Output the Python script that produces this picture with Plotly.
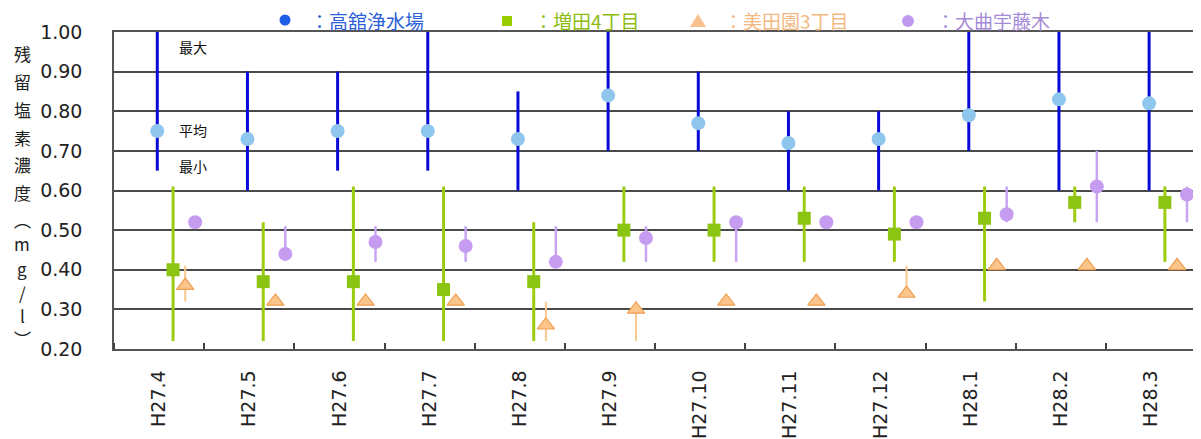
import plotly.graph_objects as go

months = ["H27.4", "H27.5", "H27.6", "H27.7", "H27.8", "H27.9",
          "H27.10", "H27.11", "H27.12", "H28.1", "H28.2", "H28.3"]

# 高舘浄水場
blue_max = [1.00, 0.90, 0.90, 1.00, 0.85, 1.00, 0.90, 0.80, 0.80, 1.00, 1.00, 1.00]
blue_avg = [0.75, 0.73, 0.75, 0.75, 0.73, 0.84, 0.77, 0.72, 0.73, 0.79, 0.83, 0.82]
blue_min = [0.65, 0.60, 0.65, 0.65, 0.60, 0.70, 0.70, 0.60, 0.60, 0.70, 0.60, 0.60]

# 増田4丁目
green_max = [0.61, 0.52, 0.61, 0.61, 0.52, 0.61, 0.61, 0.61, 0.61, 0.61, 0.61, 0.61]
green_avg = [0.40, 0.37, 0.37, 0.35, 0.37, 0.50, 0.50, 0.53, 0.49, 0.53, 0.57, 0.57]
green_min = [0.22, 0.22, 0.22, 0.22, 0.22, 0.42, 0.42, 0.42, 0.42, 0.32, 0.52, 0.42]

# 美田園3丁目
orange_max = [0.41, 0.32, 0.32, 0.32, 0.32, 0.32, 0.32, 0.32, 0.41, 0.41, 0.41, 0.41]
orange_avg = [0.36, 0.32, 0.32, 0.32, 0.26, 0.30, 0.32, 0.32, 0.34, 0.41, 0.41, 0.41]
orange_min = [0.32, 0.32, 0.32, 0.32, 0.22, 0.22, 0.32, 0.32, 0.34, 0.41, 0.41, 0.41]

# 大曲宇藤木
purple_max = [0.52, 0.51, 0.51, 0.51, 0.51, 0.51, 0.52, 0.52, 0.52, 0.61, 0.70, 0.61]
purple_avg = [0.52, 0.44, 0.47, 0.46, 0.42, 0.48, 0.52, 0.52, 0.52, 0.54, 0.61, 0.59]
purple_min = [0.52, 0.44, 0.42, 0.42, 0.42, 0.42, 0.42, 0.52, 0.52, 0.52, 0.52, 0.52]

series_names = ["：高舘浄水場", "：増田4丁目", "：美田園3丁目", "：大曲宇藤木"]
y_ticks = [0.20, 0.30, 0.40, 0.50, 0.60, 0.70, 0.80, 0.90, 1.00]
y_title_chars = ["残", "留", "塩", "素", "濃", "度", "︵", "m", "g", "/", "l", "︶"]

# page has an 8px body margin; target plot area is x 114..1196, y 32..349
OFF = 8
W, H = 1193, 431
ML, MR, MT, MB = 114 - OFF, 5, 32 - OFF, 90
PW, PH = W - ML - MR, H - MT - MB


def px(x):
    return (x - OFF - ML) / PW


def py(y):
    return (H - MB - (y - OFF)) / PH


n = len(months)
idx = list(range(n))

fig = go.Figure()


def add_series(offset, mx, av, mn, line_color, line_w, marker):
    xs = [i + offset for i in idx]
    fig.add_trace(go.Scatter(
        x=xs, y=av, mode="markers",
        marker=marker,
        error_y=dict(type="data", symmetric=False,
                     array=[a - b for a, b in zip(mx, av)],
                     arrayminus=[b - c for b, c in zip(av, mn)],
                     color=line_color, thickness=line_w, width=0),
        showlegend=False, cliponaxis=False, hoverinfo="skip"))


add_series(-0.02, blue_max, blue_avg, blue_min, "#0a0ad8", 3,
           dict(symbol="circle", size=14, color="#8fc6ee"))
add_series(0.155, green_max, green_avg, green_min, "#9ccc10", 3,
           dict(symbol="square", size=13, color="#8cc414"))
add_series(0.29, orange_max, orange_avg, orange_min, "#f8c890", 2,
           dict(symbol="triangle-up", size=15, color="#fbc58c",
                line=dict(color="#eea050", width=1.2)))
add_series(0.40, purple_max, purple_avg, purple_min, "#c8a4f2", 2.5,
           dict(symbol="circle", size=14, color="#c59cf0"))

annotations = []
for txt, yv in [("最大", 0.962), ("平均", 0.753), ("最小", 0.662)]:
    annotations.append(dict(x=0.2, y=yv, xref="x", yref="y", text=txt,
                            showarrow=False, xanchor="left", yanchor="middle",
                            font=dict(family="Noto Sans CJK JP", size=14, color="#111")))

ys = [53, 81, 109, 137, 165, 193, 219, 243, 268, 292, 315, 338]
for ch, yy in zip(y_title_chars, ys):
    annotations.append(dict(x=px(22), y=py(yy), xref="paper", yref="paper", text=ch,
                            showarrow=False, xanchor="center", yanchor="middle",
                            font=dict(family="Noto Sans CJK JP", size=17, color="#222")))

leg_text_x = [308, 532, 722, 934]
leg_colors = ["#2c5fd8", "#8cbc10", "#f3b982", "#a68ad8"]
for t, lx, c in zip(series_names, leg_text_x, leg_colors):
    annotations.append(dict(x=px(lx), y=py(20), xref="paper", yref="paper", text=t,
                            showarrow=False, xanchor="left", yanchor="middle",
                            font=dict(family="Noto Sans CJK JP", size=19, color=c)))

shapes = [
    dict(type="circle", xref="paper", yref="paper", xsizemode="pixel", ysizemode="pixel",
         xanchor=px(285), yanchor=py(20), x0=-5.5, x1=5.5, y0=-5.5, y1=5.5,
         fillcolor="#1f5fe8", line=dict(width=0)),
    dict(type="rect", xref="paper", yref="paper", xsizemode="pixel", ysizemode="pixel",
         xanchor=px(507), yanchor=py(21), x0=-5, x1=5, y0=-5, y1=5,
         fillcolor="#99cc00", line=dict(width=0)),
    dict(type="path", xref="paper", yref="paper", xsizemode="pixel", ysizemode="pixel",
         xanchor=px(698), yanchor=py(21), path="M -8,-6 L 8,-6 L 0,7 Z",
         fillcolor="#f8c08c", line=dict(width=0)),
    dict(type="circle", xref="paper", yref="paper", xsizemode="pixel", ysizemode="pixel",
         xanchor=px(908), yanchor=py(21), x0=-6, x1=6, y0=-6, y1=6,
         fillcolor="#c09af0", line=dict(width=0)),
]

fig.update_layout(
    width=W, height=H,
    margin=dict(l=ML, r=MR, t=MT, b=MB, pad=0, autoexpand=False),
    paper_bgcolor="white", plot_bgcolor="white",
    showlegend=False,
    annotations=annotations,
    shapes=shapes,
    xaxis=dict(
        range=[-0.5, n - 0.5], tickmode="array", tickvals=idx, ticktext=months,
        tickangle=-90, ticks="", showgrid=False, zeroline=False, automargin=False,
        showline=True, linecolor="#555", linewidth=1.5, mirror=True,
        tickfont=dict(family="DejaVu Sans", size=19, color="#222"),
        ticklabelstandoff=12,
        minor=dict(tickmode="linear", tick0=0.5, dtick=1, ticks="inside",
                   ticklen=6, tickcolor="#444", tickwidth=1.5, showgrid=False),
    ),
    yaxis=dict(
        range=[0.2, 1.0], tickmode="array", tickvals=y_ticks,
        ticktext=[f"{v:.2f}" for v in y_ticks], automargin=False,
        ticks="", showgrid=True, gridcolor="#4a4a4a", gridwidth=1.6,
        zeroline=False, showline=True, linecolor="#555", linewidth=1.5, mirror=True,
        tickfont=dict(family="DejaVu Sans", size=19, color="#222"),
        ticklabelstandoff=26,
    ),
)

fig.write_html("out.html")
